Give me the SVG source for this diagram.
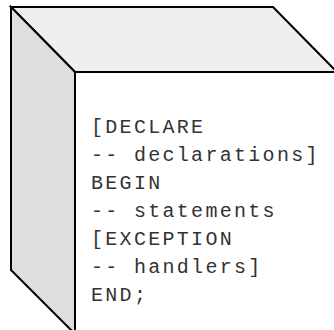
<svg xmlns="http://www.w3.org/2000/svg" width="334" height="330" viewBox="0 0 334 330">
<style>
.face{stroke:#000;stroke-width:2;stroke-linejoin:miter}
.code{font-family:"Liberation Mono","Courier New",monospace;font-size:20px;fill:#333;letter-spacing:2.3px}
</style>
<g id="cube">
<polygon class="face" fill="#efefef" points="11,7 273,7 337,72 75,72"/>
<polygon class="face" fill="#dedede" points="11,7 75,72 75,334 11,270"/>
<rect class="face" fill="#fff" x="75" y="72" width="270" height="270"/>
</g>
<g id="code">
<text class="code" x="91" y="133">[DECLARE</text>
<text class="code" x="91" y="161">-- declarations]</text>
<text class="code" x="91" y="189">BEGIN</text>
<text class="code" x="91" y="217">-- statements</text>
<text class="code" x="91" y="245">[EXCEPTION</text>
<text class="code" x="91" y="273">-- handlers]</text>
<text class="code" x="91" y="301">END;</text>
</g>
</svg>
